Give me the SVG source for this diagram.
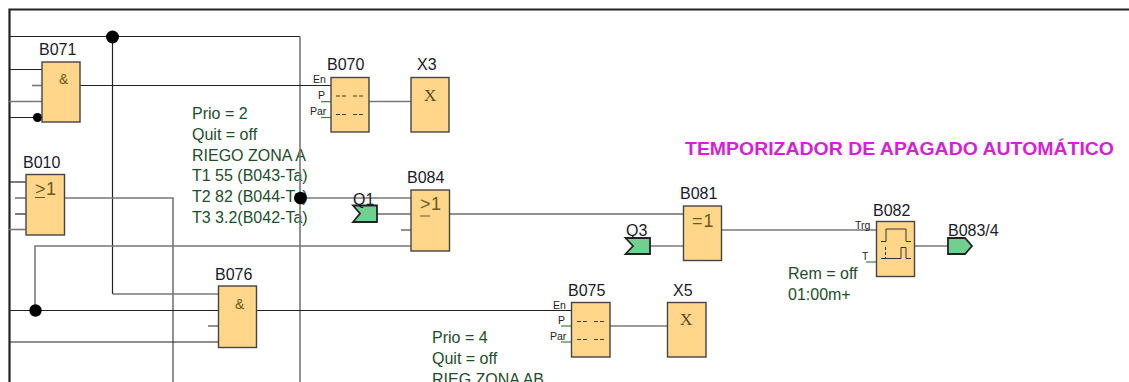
<svg xmlns="http://www.w3.org/2000/svg" width="1129" height="382" viewBox="0 0 1129 382">
<style>
text{font-family:"Liberation Sans",Arial,sans-serif}
.w{fill:none;stroke:#222;stroke-width:1.2}
.g{fill:none;stroke:#777;stroke-width:1.6}
.h{fill:none;stroke:#3f7f3f;stroke-width:1.2}
.b{fill:#ffd68a;stroke:#444;stroke-width:1.4}
.t{fill:#1a1a2a;font-size:16px}
.n{fill:#1d4d2d;font-size:16px}
.s{fill:#222;font-size:10.500px}
.y{fill:#6b5a20;font-size:14px}
.o{fill:#6b5a20;font-size:18px}
.u{fill:none;stroke:#6b5a20;stroke-width:1}
.x{fill:#5a4a20;font-size:17px;font-family:"Liberation Serif",serif}
.d{fill:#000}
.c{fill:#72cf90;stroke:#222;stroke-width:1.8}
</style>
<g id="note1"><text class="n" x="192" y="119">Prio = 2</text><text class="n" x="192" y="139.700">Quit = off</text><text class="n" x="192" y="160.500">RIEGO ZONA A</text><text class="n" x="192" y="181.200">T1 55 (B043-Ta)</text><text class="n" x="192" y="202">T2 82 (B044-Ta)</text><text class="n" x="192" y="222.700">T3 3.2(B042-Ta)</text></g>
<g id="connectors">
<path class="w" style="stroke-width:2.2" d="M1129 9.500H9.500V382"/>
<path class="w" d="M9 36.500H300"/><path class="g" d="M300 36.500V382"/>
<path class="w" d="M112.500 37V294"/><path class="g" d="M112.500 294H218"/>
<path class="w" d="M9 69.500H42"/><path class="g" d="M32 85.500H42"/><path class="g" d="M9 101.500H42"/><path class="w" d="M9 117.500H42"/>
<path class="w" d="M80 85.500H331"/>
<path class="w" d="M9 182H26"/><path class="g" d="M15 198H26"/><path class="w" d="M15 214H26"/><path class="g" d="M9 229.500H26"/>
<path class="g" d="M64 198H173V382"/>
<path class="g" d="M411 246H35V310"/>
<path class="w" d="M9 310.500H218M9 342H218"/><path class="g" d="M208 326H218"/>
<path class="w" d="M256 310.500H571"/>
<path class="g" d="M610 326H667"/>
<path class="g" d="M369 101.500H411"/>
<path class="g" d="M300 198H411"/>
<path class="w" d="M377 214H411"/><path class="g" d="M401 230H411"/>
<path class="w" d="M449 214H683"/>
<path class="g" d="M650 246H683"/>
<path class="g" d="M721 230H876"/>
<path class="g" d="M914 246H948"/>
<path class="h" d="M321 101.700H331"/><path class="h" d="M321 117.500H331"/>
<path class="h" d="M561 326H571"/><path class="h" d="M561 342H571"/>
<path class="h" d="M866 262H876"/>
<circle class="d" cx="112.500" cy="37" r="6.500"/>
<circle class="d" cx="37.500" cy="117.500" r="4.500"/>
<circle class="d" cx="300.500" cy="198" r="6.300"/>
<circle class="d" cx="35.500" cy="310.500" r="6.200"/>
</g>
<g id="B071"><rect class="b" x="42" y="62" width="38" height="60"/><text class="t" x="39" y="55">B071</text><text class="y" x="59" y="84">&amp;</text></g>
<g id="B010"><rect class="b" x="26" y="174.500" width="38.500" height="60.500"/><text class="t" x="23" y="168">B010</text><text class="o" x="35" y="195">&gt;</text><text class="o" x="46" y="195">1</text><path class="u" d="M35 197.500H45"/></g>
<g id="B076"><rect class="b" x="218.500" y="286" width="38" height="61.500"/><text class="t" x="215" y="280">B076</text><text class="y" x="235" y="309">&amp;</text></g>
<g id="B070"><rect class="b" x="331" y="77.500" width="38" height="54.500"/><text class="t" x="327" y="70">B070</text><text class="s" x="313" y="83">En</text><text class="s" x="318" y="99">P</text><text class="s" x="310" y="115">Par</text><path d="M336 96h10M353 96h10M336 114.500h10M353 114.500h10" fill="none" stroke="#4a3a10" stroke-dasharray="4 2"/></g>
<g id="X3"><rect class="b" x="411" y="77.500" width="38" height="54.500"/><text class="t" x="417" y="70">X3</text><text class="x" x="424" y="101">X</text></g>
<g id="B084"><rect class="b" x="411" y="190" width="38.500" height="61"/><text class="t" x="407" y="183">B084</text><text class="o" x="420" y="210">&gt;</text><text class="o" x="431" y="210">1</text><path class="u" d="M420 216H430"/></g>
<g id="Q1"><path class="c" d="M377 205.500V222H353L360 213.500L353 205.500Z"/><text class="t" x="353" y="205">Q1</text></g>
<g id="Q3"><path class="c" d="M650 238V254H625.500L633 246L625.500 238Z"/><text class="t" x="626" y="236">Q3</text></g>
<g id="B081"><rect class="b" x="683.500" y="206" width="38" height="54.500"/><text class="t" x="680" y="199">B081</text><text class="o" x="692" y="227" letter-spacing="1">=1</text></g>
<g id="B082"><rect class="b" x="876.500" y="221.500" width="38" height="55"/><text class="t" x="873" y="216">B082</text><text class="s" x="855" y="229">Trg</text><text class="s" x="862" y="260">T</text><path d="M881 241.500H886V229H906V241.500H911M881 258.500H901V247.500H906V258.500H911" fill="none" stroke="#333"/><path d="M885.500 247V258" stroke="#333" stroke-dasharray="3 2" fill="none"/></g>
<g id="B083"><path class="c" d="M948 238H965L972 246L965 254H948Z"/><text class="t" x="948" y="236">B083/4</text></g>
<g id="B075"><rect class="b" x="571.500" y="302.500" width="38.500" height="54.500"/><text class="t" x="568" y="296">B075</text><text class="s" x="553" y="309">En</text><text class="s" x="558" y="324">P</text><text class="s" x="550" y="340">Par</text><path d="M577 321.500h10M594 321.500h10M577 339.500h10M594 339.500h10" fill="none" stroke="#4a3a10" stroke-dasharray="4 2"/></g>
<g id="X5"><rect class="b" x="667.500" y="302.500" width="38.500" height="54.500"/><text class="t" x="673" y="296">X5</text><text class="x" x="680" y="325">X</text></g>
<g id="note2"><text class="n" x="432" y="343">Prio = 4</text><text class="n" x="432" y="364">Quit = off</text><text class="n" x="432" y="385">RIEG ZONA AB</text></g>
<g id="note3"><text class="n" x="788" y="279">Rem = off</text><text class="n" x="788" y="300">01:00m+</text></g>
<text x="685" y="155" fill="#d61fd6" font-size="19" font-weight="bold" textLength="429" lengthAdjust="spacingAndGlyphs">TEMPORIZADOR DE APAGADO AUTOMÁTICO</text>
</svg>
